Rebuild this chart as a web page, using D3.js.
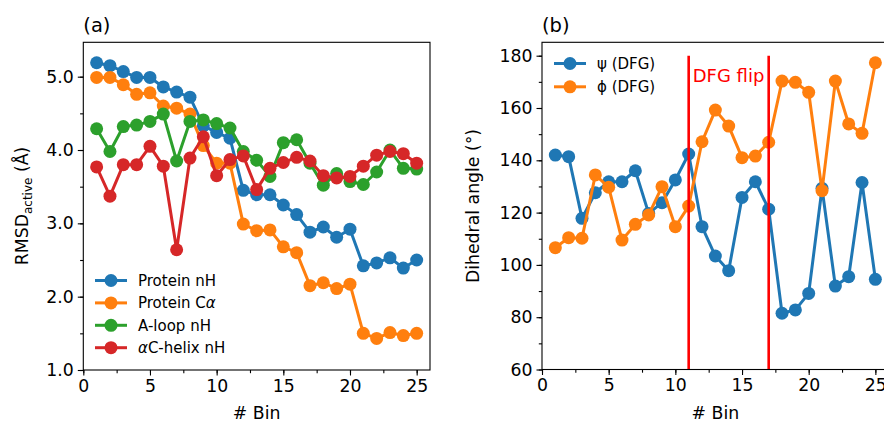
<!DOCTYPE html>
<html>
<head>
<meta charset="utf-8">
<script src="https://cdn.jsdelivr.net/npm/d3@7"></script>
<style>
  html, body { margin: 0; padding: 0; background: #fff; }
  svg { display: block; font-family: "DejaVu Sans", sans-serif; }
</style>
</head>
<body>
<svg id="fig" width="884" height="425"></svg>
<script>
// Bin indices shared by both panels
const bins = d3.range(1, 26);

// Panel (a): RMSD to the active structure per bin
const proteinNH = [5.19, 5.15, 5.07, 4.99, 4.99, 4.86, 4.79, 4.72, 4.33, 4.24, 4.16,
                   3.45, 3.39, 3.39, 3.25, 3.12, 2.88, 2.95, 2.81, 2.92, 2.42, 2.46, 2.53, 2.39, 2.50];
const proteinCA = [4.99, 4.99, 4.89, 4.76, 4.78, 4.60, 4.57, 4.49, 4.06, 3.82, 3.82,
                   2.99, 2.90, 2.91, 2.68, 2.60, 2.15, 2.19, 2.11, 2.17, 1.50, 1.43, 1.51, 1.47, 1.50];
const aloopNH   = [4.29, 3.98, 4.32, 4.34, 4.39, 4.49, 3.85, 4.39, 4.41, 4.36, 4.30,
                   3.98, 3.86, 3.64, 4.10, 4.14, 3.82, 3.52, 3.68, 3.57, 3.53, 3.70, 4.00, 3.75, 3.74];
const achelixNH = [3.77, 3.37, 3.80, 3.80, 4.05, 3.78, 2.64, 3.89, 4.18, 3.65, 3.87,
                   3.92, 3.46, 3.75, 3.83, 3.90, 3.85, 3.65, 3.62, 3.64, 3.78, 3.93, 3.98, 3.95, 3.82];

// Panel (b): DFG dihedral angles per bin (degrees)
const psiDFG = [142.0, 141.4, 117.8, 127.6, 131.8, 131.8, 136.0, 119.7, 123.8, 132.5, 142.4,
                114.6, 103.4, 97.8, 125.8, 131.8, 121.3, 81.5, 82.8, 89.1, 129.3, 91.9, 95.5, 131.5, 94.5];
const phiDFG = [106.6, 110.4, 110.2, 134.4, 129.7, 109.5, 115.5, 119.1, 129.9, 114.6, 122.5,
                147.1, 159.2, 153.1, 141.0, 141.6, 146.9, 170.3, 169.8, 166.0, 128.4, 170.3, 153.9, 150.3, 177.3];

// DFG flip boundaries (bins)
const flipBins = [11, 17];

const xTicks = [0, 5, 10, 15, 20, 25];
const yTicksA = [1.0, 2.0, 3.0, 4.0, 5.0];
const yTicksB = [60, 80, 100, 120, 140, 160, 180];

const C = { blue: "#1f77b4", orange: "#ff7f0e", green: "#2ca02c", red: "#d62728" };

const svg = d3.select("#fig");
const TICK_FONT = 17.3;

function panel(opts) {
  const g = svg.append("g");
  const x = d3.scaleLinear().domain([0, 26]).range([opts.left, opts.left + 346.7]);
  const y = d3.scaleLinear().domain(opts.yDomain).range([opts.bottom, opts.top]);

  const line = d3.line().x((d, i) => x(bins[i])).y(d => y(d));

  // series: lines with round markers
  opts.series.forEach(s => {
    g.append("path").datum(s.values)
      .attr("d", line).attr("fill", "none")
      .attr("stroke", s.color).attr("stroke-width", 3)
      .attr("stroke-linejoin", "round");
    g.selectAll(null).data(s.values).enter().append("circle")
      .attr("cx", (d, i) => x(bins[i])).attr("cy", d => y(d))
      .attr("r", 6.5).attr("fill", s.color);
  });

  if (opts.extra) opts.extra(g, x, y);

  // frame
  const x0 = x.range()[0], x1 = x.range()[1];
  g.append("rect").attr("x", x0).attr("y", opts.top)
    .attr("width", x1 - x0).attr("height", opts.bottom - opts.top)
    .attr("fill", "none").attr("stroke", "#000").attr("stroke-width", 1.1);

  // axes
  const xAxis = d3.axisBottom(x).tickValues(xTicks).tickFormat(d3.format("d"))
    .tickSizeOuter(0).tickSize(5.5).tickPadding(4);
  const xMinor = d3.axisBottom(x).tickValues(d3.range(0, 26, 2.5))
    .tickFormat("").tickSizeOuter(0).tickSize(3.2);
  const yAxis = d3.axisLeft(y).tickValues(opts.yTicks).tickFormat(opts.yFormat)
    .tickSizeOuter(0).tickSize(5.5).tickPadding(4);
  const yMinor = d3.axisLeft(y).tickValues(opts.yMinor)
    .tickFormat("").tickSizeOuter(0).tickSize(3.2);

  [[xMinor, "x"], [xAxis, "x"], [yMinor, "y"], [yAxis, "y"]].forEach(([ax, k]) => {
    const a = g.append("g")
      .attr("transform", k === "x" ? `translate(0,${opts.bottom})` : `translate(${x0},0)`)
      .call(ax);
    a.select(".domain").remove();
    a.selectAll("line").attr("stroke", "#000").attr("stroke-width", 1.1);
    a.selectAll("text").attr("font-size", TICK_FONT).attr("fill", "#000")
      .attr("font-family", "DejaVu Sans, sans-serif");
  });

  // x label
  g.append("text").attr("x", (x0 + x0 + 346.7) / 2).attr("y", 419)
    .attr("text-anchor", "middle").attr("font-size", TICK_FONT).text("# Bin");

  // panel title
  g.append("text").attr("x", x0).attr("y", 32).attr("font-size", 19.5).text(opts.title);

  // legend (no frame)
  const lg = g.append("g");
  opts.series.forEach((s, i) => {
    const yy = opts.legendY + i * opts.legendStep;
    lg.append("line").attr("x1", opts.legendX).attr("x2", opts.legendX + 32)
      .attr("y1", yy).attr("y2", yy).attr("stroke", s.color).attr("stroke-width", 3);
    lg.append("circle").attr("cx", opts.legendX + 16).attr("cy", yy).attr("r", 6.5).attr("fill", s.color);
    const t = lg.append("text").attr("x", opts.legendX + 43).attr("y", yy + 5.3).attr("font-size", 15);
    s.label(t);
  });
  return { g, x, y };
}

// Panel (a)
panel({
  left: 83.3, top: 42.3, bottom: 370,
  yDomain: [1.0, 1.0 + (370 - 42.3) / 73.33],
  yTicks: yTicksA, yMinor: d3.range(1.0, 5.01, 0.5), yFormat: d3.format(".1f"),
  title: "(a)",
  legendX: 95, legendY: 280.5, legendStep: 22.4,
  series: [
    { values: proteinNH, color: C.blue, label: t => t.text("Protein nH") },
    { values: proteinCA, color: C.orange, label: t => {
        t.append("tspan").text("Protein C");
        t.append("tspan").attr("font-style", "italic").text("α");
      } },
    { values: aloopNH, color: C.green, label: t => t.text("A-loop nH") },
    { values: achelixNH, color: C.red, label: t => {
        t.append("tspan").attr("font-style", "italic").text("α");
        t.append("tspan").text("C-helix nH");
      } }
  ]
});

// y label (a) with subscript
{
  const t = svg.append("text").attr("transform", "translate(28,206) rotate(-90)")
    .attr("text-anchor", "middle").attr("font-size", TICK_FONT);
  t.append("tspan").text("RMSD");
  t.append("tspan").attr("font-size", 12).attr("dy", 4).text("active");
  t.append("tspan").attr("dy", -4).text(" (Å)");
}

// Panel (b)
panel({
  left: 542, top: 42.3, bottom: 369.5,
  yDomain: [60, 60 + (369.5 - 42.3) / 2.615],
  yTicks: yTicksB, yMinor: d3.range(60, 181, 10), yFormat: d3.format("d"),
  title: "(b)",
  legendX: 554, legendY: 63.5, legendStep: 23.3,
  series: [
    { values: psiDFG, color: C.blue, label: t => t.text("ψ (DFG)") },
    { values: phiDFG, color: C.orange, label: t => t.text("ϕ (DFG)") }
  ],
  extra: (g, x, y) => {
    g.selectAll(null).data(flipBins).enter().append("line")
      .attr("x1", d => x(d)).attr("x2", d => x(d))
      .attr("y1", y(60)).attr("y2", y(180))
      .attr("stroke", "#ff0000").attr("stroke-width", 2.6);
    g.append("text").attr("x", x(flipBins[0]) + 4).attr("y", y(180) + 26)
      .attr("font-size", 18).attr("fill", "#ff0000").text("DFG flip");
  }
});

// y label (b)
svg.append("text").attr("transform", "translate(479,206) rotate(-90)")
  .attr("text-anchor", "middle").attr("font-size", TICK_FONT).text("Dihedral angle (°)");
</script>
</body>
</html>
